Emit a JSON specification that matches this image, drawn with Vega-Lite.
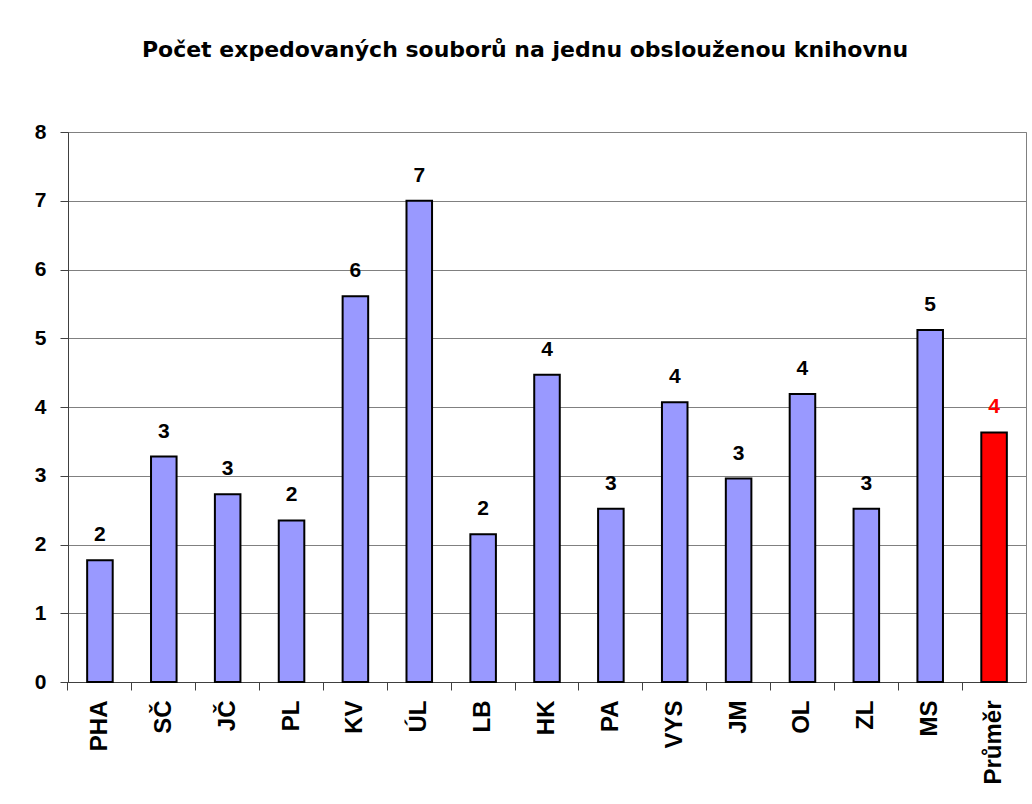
{
  "$schema": "https://vega.github.io/schema/vega-lite/v6.json",
  "autosize": "none",
  "width": 958,
  "height": 550,
  "padding": {"left": 68, "top": 132, "right": 6, "bottom": 122},
  "background": "white",
  "title": {
    "text": "Počet expedovaných souborů na jednu obslouženou knihovnu",
    "font": "DejaVu Sans",
    "fontSize": 22,
    "fontWeight": "bold",
    "color": "black",
    "anchor": "middle",
    "frame": "group",
    "baseline": "alphabetic",
    "offset": 42,
    "dx": -22
  },
  "config": {
    "view": {"stroke": "#808080", "strokeWidth": 1},
    "axis": {
      "labelFont": "Liberation Sans",
      "labelFontSize": 21,
      "labelFontWeight": "bold",
      "labelColor": "black",
      "domainColor": "#404040",
      "tickColor": "#404040",
      "tickSize": 8,
      "title": null
    }
  },
  "data": {
    "values": [
      {"kraj": "PHA", "hodnota": 1.77, "typ": "kraj"},
      {"kraj": "SČ", "hodnota": 3.28, "typ": "kraj"},
      {"kraj": "JČ", "hodnota": 2.73, "typ": "kraj"},
      {"kraj": "PL", "hodnota": 2.35, "typ": "kraj"},
      {"kraj": "KV", "hodnota": 5.61, "typ": "kraj"},
      {"kraj": "ÚL", "hodnota": 7.0, "typ": "kraj"},
      {"kraj": "LB", "hodnota": 2.15, "typ": "kraj"},
      {"kraj": "HK", "hodnota": 4.47, "typ": "kraj"},
      {"kraj": "PA", "hodnota": 2.52, "typ": "kraj"},
      {"kraj": "VYS", "hodnota": 4.07, "typ": "kraj"},
      {"kraj": "JM", "hodnota": 2.96, "typ": "kraj"},
      {"kraj": "OL", "hodnota": 4.19, "typ": "kraj"},
      {"kraj": "ZL", "hodnota": 2.52, "typ": "kraj"},
      {"kraj": "MS", "hodnota": 5.12, "typ": "kraj"},
      {"kraj": "Průměr", "hodnota": 3.63, "typ": "průměr"}
    ]
  },
  "encoding": {
    "x": {
      "field": "kraj",
      "type": "nominal",
      "sort": null,
      "scale": {"paddingInner": 0.6, "paddingOuter": 0.3},
      "axis": {
        "labelAngle": -90,
        "labelPadding": 10,
        "labelFontSize": 24,
        "bandPosition": -0.75,
        "grid": false
      }
    },
    "y": {
      "field": "hodnota",
      "type": "quantitative",
      "scale": {"domain": [0, 8], "nice": false},
      "axis": {
        "values": [0, 1, 2, 3, 4, 5, 6, 7, 8],
        "labelPadding": 14,
        "grid": true,
        "gridColor": "#808080",
        "gridWidth": 1
      }
    }
  },
  "layer": [
    {
      "mark": {"type": "bar", "stroke": "black", "strokeWidth": 2},
      "encoding": {
        "color": {
          "field": "typ",
          "type": "nominal",
          "scale": {"domain": ["kraj", "průměr"], "range": ["#9999FF", "#FF0000"]},
          "legend": null
        }
      }
    },
    {
      "mark": {
        "type": "text",
        "font": "Liberation Sans",
        "fontSize": 21,
        "fontWeight": "bold",
        "baseline": "alphabetic",
        "align": "center",
        "dy": -19
      },
      "encoding": {
        "text": {"field": "hodnota", "type": "quantitative", "format": ".0f"},
        "color": {
          "field": "typ",
          "type": "nominal",
          "scale": {"domain": ["kraj", "průměr"], "range": ["#000000", "#FF0000"]},
          "legend": null
        }
      }
    }
  ],
  "resolve": {"scale": {"color": "independent"}}
}
